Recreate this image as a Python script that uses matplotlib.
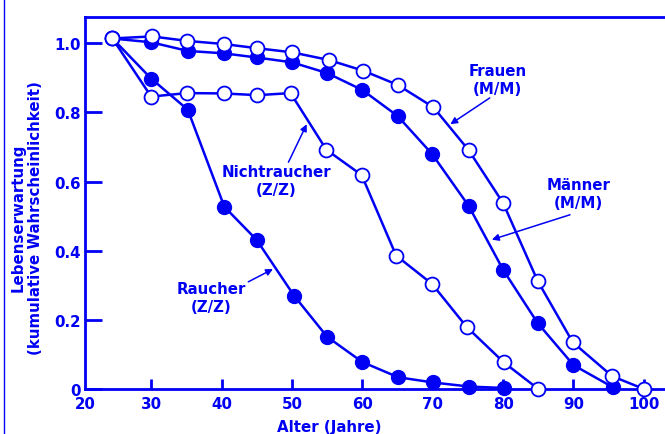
import matplotlib.pyplot as plt
from matplotlib.lines import Line2D

BLUE = "#0000f5"

# values
alter_m = [24.5, 30, 35.2, 40.3, 45, 50, 55, 60, 65, 69.9, 75.1, 80, 84.9, 90, 95.6]
maenner = [1.014, 1.003, 0.978, 0.971, 0.959, 0.945, 0.914, 0.865, 0.790, 0.680, 0.530, 0.345, 0.191, 0.069, 0.005]

alter_f = [24.5, 30.1, 35.1, 40.3, 45, 50, 55.2, 60.1, 65, 70.1, 75.1, 80, 84.9, 89.9, 95.5, 100]
frauen = [1.014, 1.020, 1.007, 0.998, 0.986, 0.974, 0.952, 0.921, 0.880, 0.815, 0.691, 0.538, 0.313, 0.135, 0.037, 0.0]

alter_n = [24.5, 30, 35.1, 40.3, 45.1, 49.8, 54.9, 59.9, 64.8, 69.9, 74.8, 80.1, 85]
nichtraucher = [1.014, 0.846, 0.856, 0.855, 0.850, 0.856, 0.692, 0.619, 0.386, 0.304, 0.180, 0.077, 0.0]

alter_r = [24.5, 30, 35.2, 40.4, 45, 50.3, 55, 60, 65.1, 70, 75.2, 80.1]
raucher = [1.014, 0.898, 0.808, 0.527, 0.431, 0.270, 0.151, 0.078, 0.034, 0.019, 0.007, 0.003]

xticks = [20.6, 30, 40, 50, 60, 70, 80, 90, 100]
xlabels = ["20", "30", "40", "50", "60", "70", "80", "90", "100"]
yticks = [0, 0.2, 0.4, 0.6, 0.8, 1.0]
ylabels = ["0", "0.2", "0.4", "0.6", "0.8", "1.0"]

plt.rcParams["font.family"] = "DejaVu Sans"
plt.rcParams["font.weight"] = "bold"

fig = plt.figure(figsize=(6.65, 4.35), dpi=100)
ax = fig.add_axes([85 / 665, 45 / 435, 580 / 665, 372.3 / 435])

filled = dict(color=BLUE, lw=1.8, marker="o", ms=10, mfc=BLUE, mec=BLUE, clip_on=False)
hollow = dict(color=BLUE, lw=1.8, marker="o", ms=10, mfc="white", mec=BLUE, mew=1.3, clip_on=False)

ax.plot(alter_r, raucher, zorder=3, **filled)
ax.plot(alter_n, nichtraucher, zorder=3, **hollow)
ax.plot(alter_m, maenner, zorder=4, **filled)
ax.plot(alter_f, frauen, zorder=4, **hollow)

ax.set_xlim(20.6, 103)
ax.set_ylim(0, 1.077)
ax.set_xticks(xticks, xlabels)
ax.set_yticks(yticks, ylabels)
ax.tick_params(axis="x", direction="in", length=7, width=2, color=BLUE,
               labelcolor=BLUE, labelsize=10.8, pad=5)
ax.tick_params(axis="y", direction="in", length=12, width=2, color=BLUE,
               labelcolor=BLUE, labelsize=10.8, pad=3)
ax.xaxis.get_major_ticks()[0].tick1line.set_visible(False)
for lab in ax.get_xticklabels() + ax.get_yticklabels():
    lab.set_fontweight("bold")

ax.spines["right"].set_visible(False)
for s in ["left", "top", "bottom"]:
    ax.spines[s].set_color(BLUE)
    ax.spines[s].set_linewidth(2)

txt = dict(color=BLUE, fontsize=10.8, fontweight="bold", ha="center", va="center",
           linespacing=1.25)
arr = dict(arrowstyle="-|>", color=BLUE, lw=1.1, mutation_scale=10, shrinkA=0, shrinkB=0)

ax.text(79.2, 0.896, "Frauen\n(M/M)", **txt)
ax.annotate("", xy=(72.5, 0.766), xytext=(78.1, 0.842), arrowprops=arr)

ax.text(90.7, 0.565, "Männer\n(M/M)", **txt)
ax.annotate("", xy=(78.4, 0.432), xytext=(89.5, 0.504), arrowprops=arr)

ax.text(47.8, 0.602, "Nichtraucher\n(Z/Z)", **txt)
ax.annotate("", xy=(52.1, 0.766), xytext=(49.5, 0.656), arrowprops=arr)

ax.text(38.5, 0.265, "Raucher\n(Z/Z)", **txt)
ax.annotate("", xy=(47.3, 0.347), xytext=(43.8, 0.310), arrowprops=arr)

fig.text(329 / 665, 1 - 428 / 435, "Alter (Jahre)", color=BLUE, fontsize=10.8,
         fontweight="bold", ha="center", va="center")
fig.text(27 / 665, 1 - 218 / 435, "Lebenserwartung\n(kumulative Wahrscheinlichkeit)",
         color=BLUE, fontsize=10.8, fontweight="bold", ha="center", va="center",
         rotation=90, linespacing=1.25)

fig.add_artist(Line2D([3.5 / 665, 3.5 / 665], [0, 1], color=BLUE, lw=1))

fig.savefig("out.png", dpi=100)
